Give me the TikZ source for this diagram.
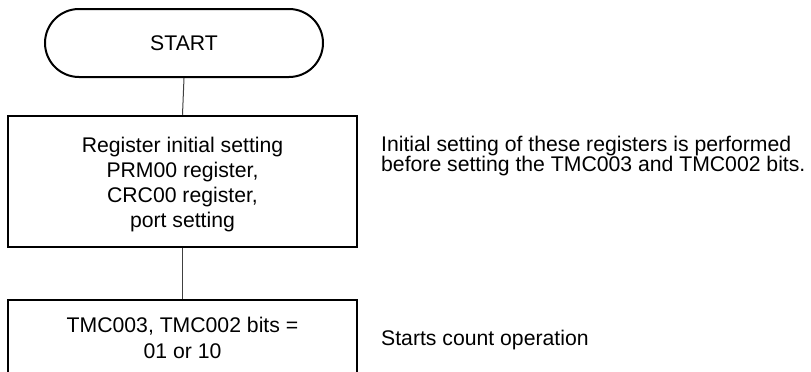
\documentclass[tikz,border=0pt]{standalone}
\usepackage{fontspec}
\setmainfont{Liberation Sans}
\usetikzlibrary{shapes.misc}

\tikzstyle{term} = [rounded rectangle, draw, line width=2pt, minimum width=278pt, minimum height=68pt, inner sep=0pt]
\tikzstyle{proc} = [rectangle, draw, line width=2.5pt, minimum width=349pt, align=center, inner sep=0pt]
\tikzstyle{note} = [align=left, anchor=west, inner sep=0pt, font=\fontsize{21.2}{19.5}\selectfont]
\tikzstyle{link} = [line width=1pt, black!75]

\begin{document}
\begin{tikzpicture}[x=1pt, y=-1pt, font=\fontsize{21.2}{25}\selectfont]
\clip (0,0) rectangle (811,372);
% flow
\node[term] (start) at (184,43) {START};
\node[proc, minimum height=131pt,
    label={[align=center, yshift=-3.5pt]center:{Register initial setting\\PRM00 register,\\CRC00 register,\\port setting}}]
    (reg) at (182.5,181.5) {};
\node[proc, minimum height=76pt, font=\fontsize{21.2}{26.5}\selectfont] (cnt) at (182.5,338)
    {TMC003, TMC002 bits =\\01 or 10};
\draw[link] (start.south) -- (reg.north);
\draw[link] (reg.south) -- (cnt.north);
% remarks
\node[note] (regnote) at (381,156)
    {Initial setting of these registers is performed\\before setting the TMC003 and TMC002 bits.};
\node[note] (cntnote) at (381,340) {Starts count operation};
\end{tikzpicture}
\end{document}
